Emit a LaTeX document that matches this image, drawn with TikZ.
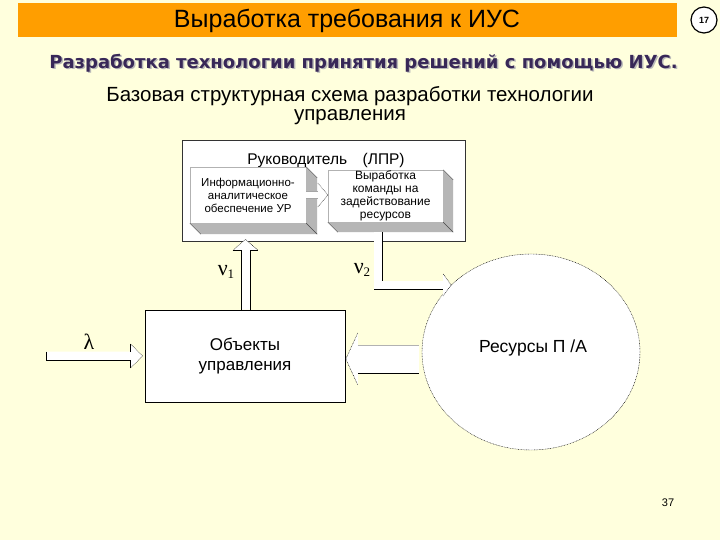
\documentclass[tikz,border=0pt]{standalone}
\usepackage{fontspec}
\setmainfont{Liberation Sans}
\newfontfamily\verdfont{DejaVu Sans}
\newfontfamily\timesfont{Liberation Serif}
\usepackage{tikz}
\usetikzlibrary{arrows.meta,positioning,calc,shapes.geometric}
\definecolor{slidebg}{RGB}{255,255,221}
\definecolor{barorange}{RGB}{255,158,0}
\definecolor{subpurple}{RGB}{56,40,88}
\definecolor{depthgray}{RGB}{182,182,182}
% grey sides of a raised box, drawn right and below its front face
\newcommand{\depthbox}[2]{%
  \fill[depthgray] (#1.north east) -- ++(#2,#2) -- ($(#1.south east)+(#2,#2)$)
    -- ($(#1.south west)+(#2,#2)$) -- (#1.south west) -- (#1.south east) -- cycle;
  \draw[gray!55!black,line width=0.4pt] (#1.south east) -- ++(#2,#2)
    (#1.south west) -- ++(#2,#2) (#1.north east) -- ++(#2,#2);}
\newcommand{\nusub}[1]{{\timesfont\fontsize{22}{22}\selectfont ν\raisebox{-3pt}{\fontsize{13}{13}\selectfont #1}}}

\begin{document}
\begin{tikzpicture}[x=1pt,y=-1pt,>=Stealth,
  blk/.style={draw,fill=white,line width=0.6pt,align=center,inner sep=0pt},
  inbox/.style={draw=gray!60,fill=white,align=center,inner sep=0pt,
                font=\fontsize{11.5}{13}\selectfont,
                minimum width=115pt,minimum height=55pt},
  edge/.style={line width=0.6pt},
  tipline/.style={line width=0.4pt,dash pattern=on 0.8pt off 0.8pt}]
\fill[slidebg] (0,0) rectangle (720,540);
\node[fill=barorange,minimum width=659pt,minimum height=34pt,inner sep=0pt] (bar) at (347.5,20) {};
\node[font=\fontsize{25}{28}\selectfont] (title) at (347,20.5) {Выработка требования к ИУС};
\node[circle,draw,fill=white,line width=1.2pt,minimum size=26pt,inner sep=0pt,
      font=\fontsize{9}{9}\selectfont\bfseries] (num) at (704,20) {17};
\node[font=\verdfont\fontsize{18}{20}\selectfont\bfseries,text=gray!55] at (365,64.5) {Разработка технологии принятия решений с помощью ИУС.};
\node[font=\verdfont\fontsize{18}{20}\selectfont\bfseries,text=subpurple] (sub) at (363.5,63) {Разработка технологии принятия решений с помощью ИУС.};
\node[align=center,font=\fontsize{20.5}{19}\selectfont] (cap) at (350,106) {Базовая структурная схема разработки технологии\\управления};

% decision maker block
\node[blk,draw=gray!40!black,minimum width=283pt,minimum height=101pt] (lpr) at (324,190.5) {};
\node[font=\fontsize{15.5}{17}\selectfont] (lprtxt) at (326,160) {Руководитель\quad (ЛПР)};
\node[inbox,minimum width=116pt,minimum height=56pt] (info) at (248,195) {Информационно-\\аналитическое\\обеспечение УР};
\depthbox{info}{11}
\node[inbox,minimum width=115pt,minimum height=52pt,font=\fontsize{12}{13}\selectfont] (cmd) at (385.5,196) {Выработка\\команды на\\задействование\\ресурсов};
\depthbox{cmd}{10}
% arrow info -> cmd
\coordinate (ic0) at ($(info.east)+(0,0)$);
\coordinate (ictip) at (cmd.west |- ic0);
\fill[white] ($(ic0)+(0,-3.5)$) -- ($(ictip)+(-10,-3.5)$) -- ($(ictip)+(-10,-12)$) -- (ictip)
  -- ($(ictip)+(-10,12)$) -- ($(ictip)+(-10,3.5)$) -- ($(ic0)+(0,3.5)$) -- cycle;
\draw[gray!70,line width=0.4pt] ($(ic0)+(0,-3.5)$) -- ($(ictip)+(-10,-3.5)$)
  ($(ic0)+(0,3.5)$) -- ($(ictip)+(-10,3.5)$);
\draw[tipline] ($(ictip)+(-10,-12)$) -- (ictip) -- ($(ictip)+(-10,12)$);

% objects and resources
\node[blk,minimum width=200pt,minimum height=92pt,font=\fontsize{17}{20}\selectfont] (obj) at (245,356) {Объекты\\управления};
\node[ellipse,draw,tipline,fill=white,minimum width=218pt,minimum height=196pt,inner sep=0pt] (res) at (531,352) {};
\node[font=\fontsize{17.5}{19}\selectfont] (restxt) at (533,348) {Ресурсы П /А};

% nu1: objects -> decision maker
\coordinate (u1tip) at ($(obj.north |- lpr.south)+(0.5,-2)$);
\coordinate (u1base) at ($(u1tip)+(0,11)$);
\coordinate (u1foot) at ($(obj.north)+(0.5,0)$);
\fill[white] ($(u1foot)+(-4.5,0)$) -- ($(u1base)+(-4.5,0)$) -- ($(u1base)+(-12.5,0)$) -- (u1tip)
  -- ($(u1base)+(12.5,0)$) -- ($(u1base)+(4.5,0)$) -- ($(u1foot)+(4.5,0)$) -- cycle;
\draw[edge] ($(u1foot)+(-4.5,0)$) -- ($(u1base)+(-4.5,0)$) -- ($(u1base)+(-12.5,0)$)
  ($(u1foot)+(4.5,0)$) -- ($(u1base)+(4.5,0)$) -- ($(u1base)+(12.5,0)$);
\draw[tipline] ($(u1base)+(-12.5,0)$) -- (u1tip) -- ($(u1base)+(12.5,0)$);
\node (nu1) at (226,272) {\nusub{1}};

% nu2: command -> resources
\coordinate (v2top) at ($(cmd.south)+(-7.5,10)$);
\coordinate (v2tip) at (res.140);
\coordinate (v2knee) at (v2top |- v2tip);
\coordinate (v2base) at ($(v2tip)+(-8,0)$);
\fill[white] ($(v2top)+(-4,0)$) -- ($(v2knee)+(-4,4)$) -- ($(v2base)+(0,4)$) -- ($(v2base)+(0,11)$)
  -- (v2tip) -- ($(v2base)+(0,-11)$) -- ($(v2base)+(0,-4)$) -- ($(v2knee)+(4,-4)$)
  -- ($(v2top)+(4,0)$) -- cycle;
\draw[edge] ($(v2top)+(4,0)$) -- ($(v2knee)+(4,-4)$)
  ($(v2knee)+(-4,4)$) -- ($(v2base)+(0,4)$);
\draw[tipline] ($(v2base)+(0,-11)$) -- (v2tip) -- ($(v2base)+(0,11)$);
\node (nu2) at (362,270) {\nusub{2}};

% resources -> objects
\coordinate (rtip) at ($(obj.east)+(0.5,3)$);
\coordinate (rbase) at ($(rtip)+(12,0)$);
\coordinate (rend) at ($(res.west |- rtip)+(-3,0)$);
\fill[white] ($(rend)+(0,-14)$) -- ($(rbase)+(0,-14)$) -- ($(rbase)+(0,-26)$) -- (rtip)
  -- ($(rbase)+(0,26)$) -- ($(rbase)+(0,14)$) -- ($(rend)+(0,14)$) -- cycle;
\draw[gray!60,line width=0.6pt] ($(rbase)+(0,-14)$) -- ($(rend)+(0,-14)$);
\draw[edge] ($(rbase)+(0,14)$) -- ($(rend)+(0,14)$);
\draw[tipline] ($(rbase)+(0,-26)$) -- (rtip) -- ($(rbase)+(0,26)$);

% lambda: input -> objects
\coordinate (lamin) at (46,356);
\coordinate (ltip) at ($(obj.west)+(-2,0)$);
\coordinate (lbase) at ($(ltip)+(-12,0)$);
\fill[white] ($(lamin)+(0,-4.5)$) -- ($(lbase |- lamin)+(0,-4.5)$) -- ($(lbase)+(0,-12)$) -- (ltip)
  -- ($(lbase)+(0,12)$) -- ($(lbase |- lamin)+(0,4.5)$) -- ($(lamin)+(0,4.5)$) -- cycle;
\draw[edge] ($(lamin)+(0,-4.5)$) -- ($(lamin)+(0,4.5)$) -- ($(lbase |- lamin)+(0,4.5)$)
  -- ($(lbase)+(0,12)$) ($(lbase)+(0,-12)$) -- ($(lbase |- lamin)+(0,-4.5)$);
\draw[tipline] ($(lbase)+(0,-12)$) -- (ltip) -- ($(lbase)+(0,12)$);
\node[font=\timesfont\fontsize{22}{22}\selectfont] (lam) at (89,342) {λ};

\node[font=\fontsize{11}{12}\selectfont] (page) at (668,503) {37};
\end{tikzpicture}
\end{document}
